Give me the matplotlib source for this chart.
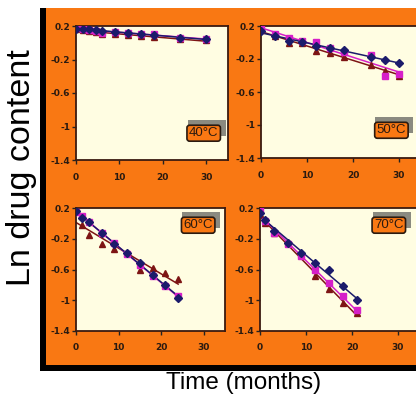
import numpy as np
import matplotlib
matplotlib.use("Agg")
import matplotlib.pyplot as plt
from matplotlib.patches import Rectangle

# data: ln(drug content) vs time (months)
t40 = [0, 1.5, 3, 4.5, 6, 9, 12, 15, 18, 24, 30]
blue40 = [0.17, 0.16, 0.16, 0.15, 0.14, 0.13, 0.12, 0.11, 0.09, 0.06, 0.04]
pink40 = [0.18, 0.16, 0.15, 0.14, 0.12, 0.13, 0.12, 0.10, 0.10, 0.06, 0.05]
brown40 = [0.16, 0.15, 0.14, 0.13, 0.11, 0.10, 0.09, 0.08, 0.07, 0.04, 0.03]

t50 = [0, 3, 6, 9, 12, 15, 18, 24, 27, 30]
blue50 = [0.14, 0.08, 0.02, 0.01, -0.04, -0.07, -0.09, -0.17, -0.21, -0.25]
pink50 = [0.16, 0.10, 0.05, 0.02, 0.01, -0.07, -0.12, -0.15, -0.41, -0.38]
brown50 = [0.15, 0.08, 0.0, -0.01, -0.10, -0.13, -0.17, -0.27, -0.34, -0.40]

t60 = [0, 1.5, 3, 6, 9, 12, 15, 18, 21, 24]
blue60 = [0.16, 0.07, 0.02, -0.12, -0.27, -0.38, -0.52, -0.67, -0.80, -0.97]
pink60 = [0.15, 0.10, 0.02, -0.13, -0.26, -0.40, -0.54, -0.68, -0.82, -0.95]
brown60 = [0.17, -0.02, -0.15, -0.27, -0.33, -0.39, -0.60, -0.58, -0.65, -0.72]

t70 = [0, 1, 3, 6, 9, 12, 15, 18, 21]
blue70 = [0.14, 0.05, -0.10, -0.25, -0.38, -0.52, -0.60, -0.82, -1.00]
pink70 = [0.18, 0.03, -0.12, -0.27, -0.42, -0.60, -0.78, -0.95, -1.13]
brown70 = [0.12, 0.0, -0.13, -0.26, -0.40, -0.68, -0.85, -1.03, -1.17]

temps = ['40°C', '50°C', '60°C', '70°C']
yticks = [0.2, -0.2, -0.6, -1, -1.4]
ytick_labels = ['0.2', '-0.2', '-0.6', '-1', '-1.4']
xticks = [0, 10, 20, 30]

ORANGE = '#f97813'
PANEL = '#fffde2'
NAVY = '#1b1b6b'
PINK = '#d61fc8'
BROWN = '#7d1414'

W, H = 416, 394
fig = plt.figure(figsize=(W / 100, H / 100), dpi=100, facecolor='white')

def px(x0, y0, x1, y1):
    # pixel box -> figure fraction [left, bottom, width, height]
    return [x0 / W, 1 - y1 / H, (x1 - x0) / W, (y1 - y0) / H]

# orange background with black frame at left and bottom
fig.patches.append(Rectangle((46 / W, 1 - 365 / H), 1, (365 - 8) / H,
                             transform=fig.transFigure, fc=ORANGE, ec='none', zorder=-10))
fig.patches.append(Rectangle((40 / W, 1 - 371 / H), 6 / W, (371 - 8) / H,
                             transform=fig.transFigure, fc='black', ec='none', zorder=-10))
fig.patches.append(Rectangle((40 / W, 1 - 371 / H), 1, 6 / H,
                             transform=fig.transFigure, fc='black', ec='none', zorder=-10))

boxes = [px(76, 26, 228, 160), px(261, 26, 422, 158),
         px(76, 208, 225, 331), px(260, 208, 421, 331)]
series = [(t40, blue40, pink40, brown40), (t50, blue50, pink50, brown50),
          (t60, blue60, pink60, brown60), (t70, blue70, pink70, brown70)]
label_pos = [(0.84, 0.20), (0.81, 0.21), (0.82, 0.86), (0.80, 0.86)]

for box, (t, b, p, r), name, (lx, ly) in zip(boxes, series, temps, label_pos):
    ax = fig.add_axes(box)
    ax.set_facecolor(PANEL)
    t = np.array(t)
    tt = np.array([t[0], t[-1]])
    for vals, col, mk in [(r, BROWN, '^'), (p, PINK, 's'), (b, NAVY, 'D')]:
        k, c = np.polyfit(t, vals, 1)
        ax.plot(tt, k * tt + c, color=col, lw=1.1, zorder=2)
        ax.plot(t, vals, ls='none', marker=mk, ms=3.8, color=col, zorder=3)
    ax.set_xlim(0, 35)
    ax.set_ylim(-1.4, 0.2)
    ax.set_xticks(xticks)
    ax.set_yticks(yticks)
    ax.set_yticklabels(ytick_labels)
    ax.tick_params(direction='out', length=3, width=1, color='#222222',
                   labelsize=6.5, labelcolor='#2a1a10')
    ax.tick_params(axis='x', pad=6)
    ax.tick_params(axis='y', pad=1)
    for lab in ax.get_xticklabels() + ax.get_yticklabels():
        lab.set_fontweight('bold')
    for s in ax.spines.values():
        s.set_color('#3a1a10')
        s.set_linewidth(1.3)
    # gray shadow behind the orange label box, a few pixels up and right
    wpx, hpx = box[2] * W, box[3] * H
    bw, bh = 38 / wpx, 16 / hpx
    ax.add_patch(Rectangle((lx - bw / 2 + 3 / wpx, ly - bh / 2 + 5 / hpx), bw, bh,
                           transform=ax.transAxes, fc='#8a8a80', ec='none', zorder=4))
    ax.text(lx, ly, name, transform=ax.transAxes, ha='center', va='center',
            fontsize=9.5, color='#2a1a10', family='Liberation Sans', zorder=5,
            bbox=dict(boxstyle='round,pad=0.15,rounding_size=0.2', fc=ORANGE,
                      ec='#2a1a10', lw=1.2))

fig.text(22 / W, 1 - 168 / H, 'Ln drug content', rotation=90, ha='center', va='center',
         fontsize=24.5, family='Liberation Sans', color='black')
fig.text(244 / W, 1 - 372 / H, 'Time (months)', ha='center', va='top',
         fontsize=17.5, family='Liberation Sans', color='black')

fig.savefig('out.png', dpi=100, facecolor='white')
